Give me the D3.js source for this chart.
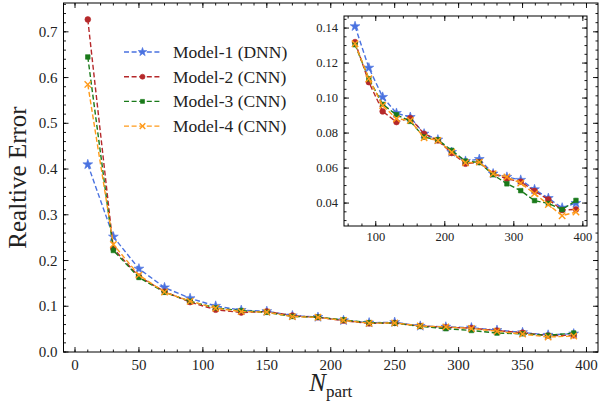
<!DOCTYPE html>
<html>
<head>
<meta charset="utf-8">
<script src="https://cdn.jsdelivr.net/npm/d3@7"></script>
<style>
  body { margin: 0; background: #fff; }
  svg text { font-family: "Liberation Serif", "DejaVu Serif", serif; fill: #222; }
</style>
</head>
<body>
<div class="chart"></div>
<script>
// data
var nPart = [10, 30, 50, 70, 90, 110, 130, 150, 170, 190, 210, 230, 250, 270, 290, 310, 330, 350, 370, 390];

var model1 = [0.410, 0.252, 0.182, 0.141, 0.1173, 0.1006, 0.0914, 0.0891, 0.0796, 0.0762, 0.0691, 0.0640, 0.0651, 0.0568, 0.0549, 0.0532, 0.0478, 0.0428, 0.0373, 0.0400];
var model2 = [0.727, 0.226, 0.165, 0.132, 0.1091, 0.0924, 0.0863, 0.0886, 0.0796, 0.0758, 0.0686, 0.0625, 0.0634, 0.0568, 0.0539, 0.0522, 0.0469, 0.0421, 0.0360, 0.0364];
var model3 = [0.645, 0.222, 0.163, 0.1305, 0.111, 0.0964, 0.0905, 0.0867, 0.0777, 0.0762, 0.0701, 0.0640, 0.0632, 0.0562, 0.0510, 0.0471, 0.0414, 0.0398, 0.0363, 0.0415];
var model4 = [0.585, 0.235, 0.168, 0.131, 0.111, 0.0958, 0.0882, 0.0872, 0.0773, 0.0758, 0.0691, 0.0630, 0.0634, 0.0568, 0.0549, 0.0514, 0.0454, 0.0392, 0.0328, 0.0349];

var seriesNames = ["Model-1 (DNN)", "Model-2 (CNN)", "Model-3 (CNN)", "Model-4 (CNN)"];
var seriesColors = ["#4a72e0", "#b5282a", "#1a7a1a", "#ff9a1a"];
var seriesMarkers = ["star", "circle", "square", "x"];

var mainXTicks = [0, 50, 100, 150, 200, 250, 300, 350, 400];
var mainYTicks = [0.0, 0.1, 0.2, 0.3, 0.4, 0.5, 0.6, 0.7];
var insetXTicks = [100, 200, 300, 400];
var insetYTicks = [0.04, 0.06, 0.08, 0.10, 0.12, 0.14];
var insetStart = 70;

var allSeries = [model1, model2, model3, model4];

var svgWidth = 601;
var svgHeight = 405;

var svg = d3.select(".chart")
    .append("svg")
    .attr("width", svgWidth)
    .attr("height", svgHeight);

var main = { left: 63.5, right: 598, top: 3, bottom: 352 };
var inset = { left: 344, right: 587, top: 16, bottom: 226 };

var xMain = d3.scaleLinear().domain([-9, 409]).range([main.left, main.right]);
var yMain = d3.scaleLinear().domain([0, 0.763]).range([main.bottom, main.top]);
var xIn = d3.scaleLinear().domain([54, 406]).range([inset.left, inset.right]);
var yIn = d3.scaleLinear().domain([0.0269, 0.1469]).range([inset.bottom, inset.top]);

function marker(sel, kind, color, size) {
    if (kind == "x") {
        sel.append("path")
            .attr("d", d3.symbol().type(d3.symbolTimes).size(size * 1.1)())
            .attr("fill", "none")
            .attr("stroke", color)
            .attr("stroke-width", 1.4);
    } else {
        var t = kind == "star" ? d3.symbolStar : kind == "circle" ? d3.symbolCircle : d3.symbolSquare;
        var s = kind == "star" ? size * 1.15 : kind == "square" ? size * 0.8 : size;
        sel.append("path")
            .attr("d", d3.symbol().type(t).size(s)())
            .attr("fill", color)
            .attr("stroke", color)
            .attr("stroke-width", 0.6);
    }
}

// ticks pointing inward on all four sides
function drawAxes(g, b, xs, ys, xMajor, xMinorStep, yMajor, yMinorStep, fontSize, xLabelY) {
    var xd = xs.domain(), yd = ys.domain();
    var xMinor = d3.range(Math.ceil(xd[0] / xMinorStep) * xMinorStep, xd[1] + 1e-9, xMinorStep);
    var yMinor = d3.range(Math.ceil(yd[0] / yMinorStep - 1e-6) * yMinorStep, yd[1] + 1e-9, yMinorStep);
    var ticks = g.append("g").attr("stroke", "#000").attr("stroke-width", 0.9);
    xMinor.forEach(function (v) {
        var x = xs(v);
        ticks.append("line").attr("x1", x).attr("x2", x).attr("y1", b.bottom).attr("y2", b.bottom - 2.5);
        ticks.append("line").attr("x1", x).attr("x2", x).attr("y1", b.top).attr("y2", b.top + 2.5);
    });
    xMajor.forEach(function (v) {
        var x = xs(v);
        ticks.append("line").attr("x1", x).attr("x2", x).attr("y1", b.bottom).attr("y2", b.bottom - 5);
        ticks.append("line").attr("x1", x).attr("x2", x).attr("y1", b.top).attr("y2", b.top + 5);
    });
    yMinor.forEach(function (v) {
        var y = ys(v);
        ticks.append("line").attr("x1", b.left).attr("x2", b.left + 2.5).attr("y1", y).attr("y2", y);
        ticks.append("line").attr("x1", b.right).attr("x2", b.right - 2.5).attr("y1", y).attr("y2", y);
    });
    yMajor.forEach(function (v) {
        var y = ys(v);
        ticks.append("line").attr("x1", b.left).attr("x2", b.left + 5).attr("y1", y).attr("y2", y);
        ticks.append("line").attr("x1", b.right).attr("x2", b.right - 5).attr("y1", y).attr("y2", y);
    });
    g.append("rect")
        .attr("x", b.left).attr("y", b.top)
        .attr("width", b.right - b.left).attr("height", b.bottom - b.top)
        .attr("fill", "none").attr("stroke", "#000").attr("stroke-width", 1);

    g.selectAll(".xl").data(xMajor).enter().append("text")
        .attr("x", function (d) { return xs(d); })
        .attr("y", xLabelY)
        .attr("text-anchor", "middle")
        .attr("font-size", fontSize)
        .text(function (d) { return d; });
    var dec = yMajor[1] - yMajor[0] < 0.05 ? 2 : 1;
    g.selectAll(".yl").data(yMajor).enter().append("text")
        .attr("x", b.left - 6)
        .attr("y", function (d) { return ys(d); })
        .attr("dy", "0.34em")
        .attr("text-anchor", "end")
        .attr("font-size", fontSize)
        .text(function (d) { return d.toFixed(dec); });
}

function drawSeries(g, xs, ys, from, size) {
    allSeries.forEach(function (vals, i) {
        var pts = nPart.map(function (n, j) { return [n, vals[j]]; })
            .filter(function (p) { return p[0] >= from; });
        var line = d3.line().x(function (p) { return xs(p[0]); }).y(function (p) { return ys(p[1]); });
        g.append("path")
            .datum(pts)
            .attr("d", line)
            .attr("fill", "none")
            .attr("stroke", seriesColors[i])
            .attr("stroke-width", 1.4)
            .attr("stroke-dasharray", "5,2.6");
        g.selectAll(".m" + i).data(pts).enter().append("g")
            .attr("transform", function (p) { return `translate(${xs(p[0])},${ys(p[1])})`; })
            .each(function () { marker(d3.select(this), seriesMarkers[i], seriesColors[i], size); });
    });
}

// main panel
var mainG = svg.append("g");
drawSeries(mainG, xMain, yMain, 0, 26);
drawAxes(mainG, main, xMain, yMain, mainXTicks, 10, mainYTicks, 0.02, 15, 370);

mainG.append("text")
    .attr("transform", `translate(26,${(main.top + main.bottom) / 2})rotate(-90)`)
    .attr("text-anchor", "middle")
    .attr("font-size", 25)
    .text("Realtive Error");

var xl = mainG.append("text")
    .attr("x", (main.left + main.right) / 2)
    .attr("y", 391)
    .attr("text-anchor", "middle")
    .attr("font-size", 25);
xl.append("tspan").attr("font-style", "italic").text("N");
xl.append("tspan").attr("font-size", 17).attr("dy", 6).text("part");

// legend
var legend = mainG.append("g");
seriesNames.forEach(function (name, i) {
    var y = 52 + i * 24.7;
    legend.append("line")
        .attr("x1", 124).attr("x2", 161).attr("y1", y).attr("y2", y)
        .attr("stroke", seriesColors[i]).attr("stroke-width", 1.4)
        .attr("stroke-dasharray", "5,2.6");
    marker(legend.append("g").attr("transform", `translate(142.5,${y})`), seriesMarkers[i], seriesColors[i], 20);
    legend.append("text")
        .attr("x", 173).attr("y", y).attr("dy", "0.34em")
        .attr("font-size", 17.5)
        .text(name);
});

// inset panel
var insetG = svg.append("g");
insetG.append("rect")
    .attr("x", inset.left).attr("y", inset.top)
    .attr("width", inset.right - inset.left).attr("height", inset.bottom - inset.top)
    .attr("fill", "#fff");
drawSeries(insetG, xIn, yIn, insetStart, 26);
drawAxes(insetG, inset, xIn, yIn, insetXTicks, 20, insetYTicks, 0.005, 12.5, 241);
</script>
</body>
</html>
